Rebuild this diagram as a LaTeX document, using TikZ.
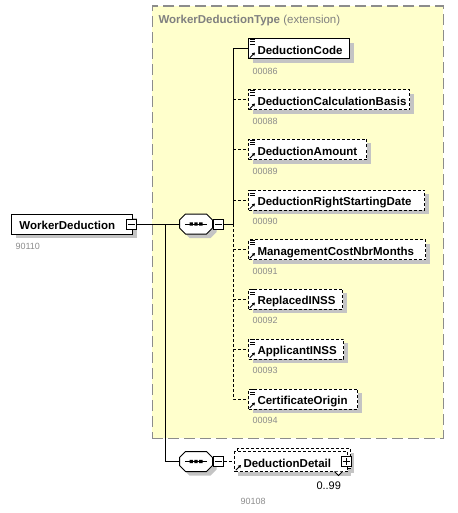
\documentclass[tikz,border=0pt]{standalone}
\usepackage{fontspec}
\setmainfont{Liberation Sans}
\usetikzlibrary{shadows,arrows.meta}
\definecolor{bgyellow}{HTML}{FFFFCC}
\definecolor{framegray}{HTML}{8C8C8C}
\definecolor{idgray}{HTML}{8C8C8C}
\definecolor{titlegray}{HTML}{808080}
\definecolor{shadowgray}{HTML}{C4C4C4}
\tikzset{
  elemcore/.style={draw, fill=white, anchor=west, minimum height=20pt,
    inner xsep=0pt, inner ysep=0pt, text height=11pt, text depth=0pt,
    text width=#1, align=left, font=\fontsize{11.5}{12}\selectfont\bfseries},
  elembox/.style={elemcore=#1,
    general shadow={fill=shadowgray, shadow xshift=4pt, shadow yshift=-4pt}},
  optbox/.style={elembox=#1, dash pattern=on 3pt off 2pt},
  ddbox/.style={elemcore=#1, dash pattern=on 3pt off 2pt},
  typebox/.style={draw=framegray, fill=bgyellow, line width=1.2pt,
    dash pattern=on 11pt off 5pt, inner sep=0pt},
  idlabel/.style={anchor=base west, inner sep=0pt, text=idgray,
    font=\fontsize{9}{10}\selectfont},
  pmbox/.style={draw, fill=white, minimum size=10pt, inner sep=0pt},
  seqnode/.style={minimum width=33pt, minimum height=20pt, inner sep=0pt},
  optconn/.style={dash pattern=on 3pt off 2pt},
}
\newcommand\texticon[1]{%
  \draw[line width=0.8pt]
    ([shift={(1.5pt,-1.2pt)}]#1.north west) -- ++(5pt,0pt)
    ([shift={(1.5pt,-3.4pt)}]#1.north west) -- ++(5pt,0pt)
    ([shift={(1.5pt,-5.6pt)}]#1.north west) -- ++(5pt,0pt);}
\newcommand\refarrow[1]{%
  \draw[line width=0.9pt, -{Triangle[length=2.8pt,width=3.2pt]}]
    ([shift={(1.8pt,1.8pt)}]#1.south west) -- ++(5.2pt,5.2pt);}
\newcommand\seqshape[1]{%
  \fill[shadowgray, shift={(#1)}, xshift=4pt, yshift=-4pt]
    (-10.5,-10) -- (10.5,-10) -- (16.5,-4) -- (16.5,4) -- (10.5,10)
    -- (-10.5,10) -- (-16.5,4) -- (-16.5,-4) -- cycle;
  \draw[fill=white, shift={(#1)}]
    (-10.5,-10) -- (10.5,-10) -- (16.5,-4) -- (16.5,4) -- (10.5,10)
    -- (-10.5,10) -- (-16.5,4) -- (-16.5,-4) -- cycle;
  \draw[shift={(#1)}] (-11,0) -- (11,0);
  \fill[shift={(#1)}] (-6.5,-1.7) rectangle (-3.1,1.7)
    (-1.7,-1.7) rectangle (1.7,1.7) (3.1,-1.7) rectangle (6.5,1.7);}
\newcommand\minussign[1]{\draw ([xshift=2pt]#1.west) -- ([xshift=-2pt]#1.east);}
\newcommand\plussign[1]{\minussign{#1}\draw ([yshift=-2pt]#1.north) -- ([yshift=2pt]#1.south);}

\begin{document}
\begin{tikzpicture}[x=1pt,y=-1pt,line width=1pt]
\useasboundingbox (0,0) rectangle (457,513);

% complex type container
\node[typebox, minimum width=291pt, minimum height=432pt, anchor=north west] (wdt) at (151.5,5.5) {};
\node[anchor=base west, inner sep=0pt, text=titlegray, font=\fontsize{11.5}{12}\selectfont] (title) at (158,24)
  {\textbf{WorkerDeductionType} (extension)};

% root element
\node[elembox=121pt] (wd) at (11,224) {\hspace*{8pt}WorkerDeduction};
\node[pmbox] (wdm) at (131,224) {};
\minussign{wdm}
\node[idlabel] (wdid) at (15,249) {90110};

% sequence 1
\node[seqnode] (s1) at (196,224) {};
\seqshape{196,224}
\node[pmbox] (s1m) at (218.5,224) {};
\minussign{s1m}

% sequence 2
\node[seqnode] (s2) at (196,461.5) {};
\seqshape{196,461.5}
\node[pmbox] (s2m) at (218.5,461.5) {};
\minussign{s2m}

% child elements
\node[elembox=101pt] (dc) at (248,49) {\hspace*{9pt}DeductionCode};
\node[optbox=161pt] (dcb) at (248,100) {\hspace*{9pt}DeductionCalculationBasis};
\node[optbox=118pt] (da) at (248,149.5) {\hspace*{9pt}DeductionAmount};
\node[optbox=176pt] (drsd) at (248,200) {\hspace*{9pt}DeductionRightStartingDate};
\node[optbox=177pt] (mcnm) at (248,249.5) {\hspace*{9pt}ManagementCostNbrMonths};
\node[optbox=94pt] (ri) at (248,299) {\hspace*{9pt}ReplacedINSS};
\node[optbox=95pt] (ai) at (248,349) {\hspace*{9pt}ApplicantINSS};
\node[optbox=109pt] (co) at (248,399) {\hspace*{9pt}CertificateOrigin};

\foreach \n in {dc,dcb,da,drsd,mcnm,ri,ai,co} {\texticon{\n}\refarrow{\n}}

\node[idlabel] (id1) at (252,74.5) {00086};
\node[idlabel] (id2) at (252,124.5) {00088};
\node[idlabel] (id3) at (252,174) {00089};
\node[idlabel] (id4) at (252,224.5) {00090};
\node[idlabel] (id5) at (252,274) {00091};
\node[idlabel] (id6) at (252,323.5) {00092};
\node[idlabel] (id7) at (252,373.5) {00093};
\node[idlabel] (id8) at (252,423.5) {00094};

% DeductionDetail (repeated)
\fill[shadowgray] (241,452.5) rectangle (354,472.5);
\fill[shadowgray] (238,455.5) rectangle (351,475.5);
\node[ddbox=113pt] (ddb) at (237,458.5) {};
\node[ddbox=113pt] (dd) at (234,461.5) {\hspace*{9pt}DeductionDetail};
\refarrow{dd}
\node[pmbox] (ddp) at (346,461.5) {};
\plussign{ddp}
\draw[fill=white, line width=0.8pt] (334.5,471.5) -- (338.5,475.5) -- (342.5,471.5);
\node[anchor=base west, inner sep=0pt, font=\fontsize{11}{12}\selectfont] (occ) at (316,489.5) {0..99};
\node[idlabel] (ddid) at (240,504) {90108};

% connectors
\coordinate (j1) at (165,224);
\coordinate (v1) at (233,224);
\draw (wdm.east) -- (s1.west);
\draw (j1) |- (s2.west);
\draw (s1m.east) -- (v1);
\draw (v1) |- (dc.west);
\draw[optconn] (v1) |- (co.west);
\foreach \n in {dcb,da,drsd,mcnm,ri,ai} {\draw[optconn] (\n.west -| v1) -- (\n.west);}
\draw[optconn] (s2m.east) -- (dd.west);
\end{tikzpicture}
\end{document}
